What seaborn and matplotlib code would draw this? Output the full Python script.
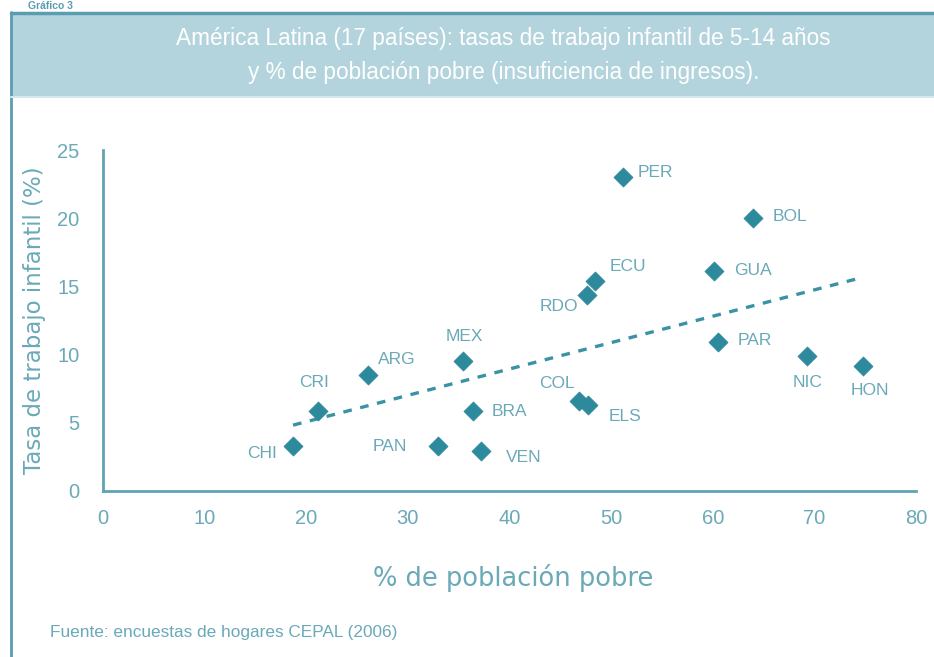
import matplotlib
matplotlib.use("Agg")
import matplotlib.pyplot as plt
from matplotlib.patches import Rectangle
from matplotlib.lines import Line2D
import seaborn as sns
import pandas as pd

# ---- data ----
countries = ["CHI", "CRI", "ARG", "MEX", "BRA", "PAN", "VEN", "COL", "ELS",
             "PER", "ECU", "RDO", "BOL", "GUA", "PAR", "NIC", "HON"]
pobreza = [18.7, 21.2, 26.1, 35.4, 36.4, 33.0, 37.2, 46.8, 47.7,
           51.2, 48.4, 47.6, 64.0, 60.1, 60.5, 69.3, 74.8]
trabajo_infantil = [3.3, 5.9, 8.5, 9.5, 5.9, 3.3, 2.9, 6.6, 6.3,
                    23.0, 15.4, 14.4, 20.0, 16.1, 10.9, 9.9, 9.2]
x_ticks = [0, 10, 20, 30, 40, 50, 60, 70, 80]
y_ticks = [0, 5, 10, 15, 20, 25]

title_line1 = "América Latina (17 países): tasas de trabajo infantil de 5-14 años"
title_line2 = "y % de población pobre (insuficiencia de ingresos)."
x_label = "% de población pobre"
y_label = "Tasa de trabajo infantil (%)"
source_text = "Fuente: encuestas de hogares CEPAL (2006)"
chart_number = "Gráfico 3"

df = pd.DataFrame({"pais": countries, "pobreza": pobreza, "ti": trabajo_infantil})

# label placement (pixel offsets, alignment)
label_pos = {
    "CHI": (-16, -8, "right"),
    "CRI": (-4, 28, "center"),
    "ARG": (10, 16, "left"),
    "MEX": (2, 25, "center"),
    "BRA": (19, -1, "left"),
    "PAN": (-31, -1, "right"),
    "VEN": (25, -6, "left"),
    "COL": (-4, 17, "right"),
    "ELS": (21, -11, "left"),
    "PER": (14, 5, "left"),
    "ECU": (15, 14, "left"),
    "RDO": (-9, -12, "right"),
    "BOL": (19, 2, "left"),
    "GUA": (20, 1, "left"),
    "PAR": (20, 2, "left"),
    "NIC": (0, -27, "center"),
    "HON": (7, -25, "center"),
}

# ---- style ----
sns.set_theme(style="white")
narrow = ["Liberation Sans", "DejaVu Sans"]
plt.rcParams["font.family"] = ["DejaVu Sans"]

marker_c = "#2d8a9c"
text_c = "#6aa9b8"
axis_c = "#5fa4b4"
band_c = "#b3d4dc"
frame_c = "#5a9db0"

W, H = 934, 657
fig = plt.figure(figsize=(W / 100, H / 100), dpi=100)
renderer = fig.canvas.get_renderer()

def fx(px):
    return px / W

def fy(py):
    return 1 - py / H

def fit_width(t, target_px):
    bb = t.get_window_extent(renderer=renderer)
    t.set_fontsize(t.get_fontsize() * target_px / bb.width)
    return t.get_fontsize()

# frame / title band
fig.patches.append(Rectangle((fx(11), fy(97)), fx(934) - fx(11), fy(13) - fy(97),
                             transform=fig.transFigure, facecolor=band_c,
                             edgecolor="none", zorder=0))
fig.lines.append(Line2D([fx(11), fx(934)], [fy(13), fy(13)], transform=fig.transFigure,
                        color=frame_c, lw=2.5))
fig.lines.append(Line2D([fx(11), fx(11)], [fy(12), fy(657)], transform=fig.transFigure,
                        color=frame_c, lw=2.0))
fig.lines.append(Line2D([fx(11), fx(934)], [fy(97), fy(97)], transform=fig.transFigure,
                        color="#d5e8ec", lw=1.5))

fig.text(fx(28), fy(1), chart_number, ha="left", va="top", fontsize=7.5,
         fontweight="bold", color=frame_c, family=narrow)

t1 = fig.text(fx(503), fy(38), title_line1, ha="center", va="center", color="white",
              fontsize=16, family=narrow)
fs = fit_width(t1, 658)
fig.text(fx(504), fy(73), title_line2, ha="center", va="center", color="white",
         fontsize=fs, family=narrow)

ax = fig.add_axes([fx(103), fy(491), fx(916) - fx(103), fy(150) - fy(491)])

sns.regplot(data=df, x="pobreza", y="ti", ax=ax, ci=None, scatter=False,
            line_kws=dict(color="#3a93a5", lw=2.4, ls=(0, (2.6, 2.6))))
sns.scatterplot(data=df, x="pobreza", y="ti", ax=ax, marker="D", s=95,
                color=marker_c, edgecolor=marker_c, linewidth=0.5, zorder=3)

for _, r in df.iterrows():
    dx, dy, ha = label_pos[r["pais"]]
    ax.annotate(r["pais"], (r["pobreza"], r["ti"]), xytext=(dx, dy),
                textcoords="offset pixels", ha=ha, va="center", fontsize=12.5,
                color=text_c, family=narrow)

ax.set_xlim(0, 80)
ax.set_ylim(0, 25)
ax.set_xticks(x_ticks)
ax.set_yticks(y_ticks)
ax.set_xticklabels([str(t) for t in x_ticks], family=narrow, fontsize=14.5, color=text_c)
ax.set_yticklabels([str(t) for t in y_ticks], family=narrow, fontsize=14.5, color=text_c)
ax.tick_params(axis="both", which="major", direction="out", length=5, width=1.5,
               color=axis_c, pad=8)
ax.tick_params(axis="y", pad=12)

for s in ["top", "right"]:
    ax.spines[s].set_visible(False)
for s in ["left", "bottom"]:
    ax.spines[s].set_color(axis_c)
    ax.spines[s].set_linewidth(2)
ax.set_facecolor("none")

ax.set_xlabel("")
ax.set_ylabel("")
fig.text(fx(513), fy(578), x_label, ha="center", va="center", fontsize=18.5,
         color=text_c)
fig.text(fx(35), fy(320), y_label, ha="center", va="center", fontsize=16.5,
         color=text_c, rotation=90)
src = fig.text(fx(50), fy(632), source_text, ha="left", va="center", fontsize=12,
               color=text_c, family=narrow)
fit_width(src, 347)

fig.savefig("out.png", dpi=100)
